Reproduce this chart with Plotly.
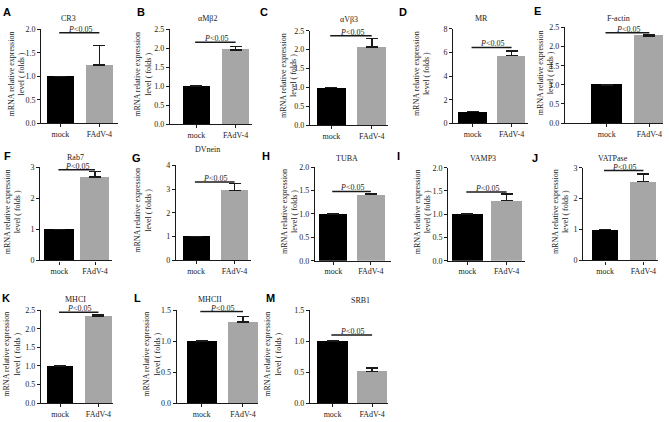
import plotly.graph_objects as go

# ---------------- data ----------------
genes = ["CR3", "αMβ2", "αVβ3", "MR", "F-actin", "Rab7", "DVnein",
         "TUBA", "VAMP3", "VATPase", "MHCI", "MHCII", "SRB1"]
letters = ["A", "B", "C", "D", "E", "F", "G", "H", "I", "J", "K", "L", "M"]
groups = ["mock", "FAdV-4"]
mock_vals = [1.0, 1.0, 1.0, 1.0, 1.0, 1.0, 1.0, 1.0, 1.0, 1.0, 1.0, 1.0, 1.0]
fadv_vals = [1.24, 1.96, 2.07, 5.72, 2.28, 2.68, 2.95, 1.41, 1.30, 2.56, 2.33, 1.31, 0.51]
fadv_err = [0.42, 0.09, 0.23, 0.38, 0.02, 0.18, 0.28, 0.03, 0.13, 0.24, 0.04, 0.09, 0.06]
sig_level = [1.93, 2.16, 2.37, 6.42, 2.36, 2.92, 3.30, 1.48, 1.48, 2.91, 2.45, 1.48, 1.10]
sig_text = "<i>P</i>&lt;0.05"
y_max = [2.0, 2.5, 2.5, 8, 2.5, 3, 4, 2.0, 2.0, 3, 2.5, 1.5, 1.5]
y_step = [0.5, 0.5, 0.5, 2, 0.5, 1, 1, 0.5, 0.5, 1, 0.5, 0.5, 0.5]
y_title = "mRNA relative expression<br>level ( folds )"

# ---------------- layout geometry (pixels) ----------------
W, H = 669, 422
# plot boxes: left, right, top, bottom
boxes = [
    (41.3, 117.7, 26, 122), (170, 251.7, 26, 122.7), (310, 388.3, 27.3, 124),
    (453.3, 528.3, 25.3, 122), (565, 663, 24, 121.7),
    (40.3, 111.7, 166.7, 262), (176, 250.7, 165, 261.7), (315, 390.7, 166.7, 262.3),
    (448.3, 525, 167.3, 262.3), (583.3, 658, 167.3, 262),
    (41, 113, 313, 407.7), (176.7, 258.3, 313, 407.7), (310, 388.3, 313, 407.7),
]
xranges = [(-0.49, 1.47), (-0.67, 1.41), (-0.53, 1.41), (-0.50, 1.43), (-0.98, 1.32),
           (-0.54, 1.47), (-0.52, 1.42), (-0.49, 1.53), (-0.49, 1.47), (-0.57, 1.38),
           (-0.50, 1.38), (-0.60, 1.37), (-0.57, 1.41)]
bar_w = [0.69, 0.70, 0.71, 0.73, 0.72, 0.83, 0.70, 0.75, 0.79, 0.69, 0.69, 0.72, 0.77]
title_pos = [(68, 15), (208, 15), (349, 16), (481, 15), (618, 15),
             (75, 156.5), (207, 149), (347, 157.7), (483, 158), (613, 158),
             (75, 301.5), (210, 302), (360, 303)]
letter_pos = [(7, 8), (141, 8), (264, 8), (403, 8), (537, 7),
              (7, 155), (136, 157), (266, 155), (399, 155), (535, 157),
              (6, 300), (137, 300), (270, 300)]
ytitle_x = [16, 143, 288, 421, 545, 12.5, 143, 290, 422, 560, 12, 152, 273]

FONT = "Liberation Serif, Times New Roman, serif"
GREY = "#a6a6a6"
INK = "#1a1a1a"

fig = go.Figure()
annotations = []
shapes = []

for i in range(13):
    L, R, T, B = boxes[i]
    sfx = "" if i == 0 else str(i + 1)
    xa, ya = "x" + sfx, "y" + sfx
    fig.add_trace(go.Bar(
        x=groups, y=[mock_vals[i], fadv_vals[i]],
        width=[bar_w[i], bar_w[i]],
        marker=dict(color=["#000000", GREY], line=dict(width=0)),
        error_y=dict(type="data", symmetric=False, array=[0, fadv_err[i]],
                     arrayminus=[0, 0], color=INK, thickness=1.5, width=6),
        xaxis=xa, yaxis=ya, showlegend=False, hoverinfo="skip",
    ))
    fmt = ".1f" if y_step[i] < 1 else "d"
    fig.layout["xaxis" + sfx] = dict(
        domain=[L / W, R / W], anchor=ya, type="category",
        range=list(xranges[i]), showline=True, linecolor=INK, linewidth=1.2,
        ticks="outside", ticklen=3, tickwidth=1, tickcolor=INK,
        tickfont=dict(family=FONT, size=8, color=INK),
        showgrid=False, zeroline=False, fixedrange=True,
    )
    fig.layout["yaxis" + sfx] = dict(
        domain=[1 - B / H, 1 - T / H], anchor=xa,
        range=[0, y_max[i]], dtick=y_step[i], tick0=0, tickformat=fmt,
        showline=True, linecolor=INK, linewidth=1.2,
        ticks="outside", ticklen=3, tickwidth=1, tickcolor=INK,
        tickfont=dict(family=FONT, size=8, color=INK),
        showgrid=False, zeroline=False, fixedrange=True,
    )
    # significance line and text
    shapes.append(dict(type="line", xref=xa, yref=ya, x0=-0.03, x1=1.0,
                       y0=sig_level[i], y1=sig_level[i],
                       line=dict(color=INK, width=1.5)))
    annotations.append(dict(xref=xa, yref=ya, x=0.5, y=sig_level[i],
                            text=sig_text, showarrow=False, yanchor="bottom",
                            yshift=-3, font=dict(family=FONT, size=8, color=INK)))
    # gene title
    tx, ty = title_pos[i]
    annotations.append(dict(xref="paper", yref="paper", x=tx / W, y=1 - ty / H,
                            text=genes[i], showarrow=False,
                            xanchor="center", yanchor="middle",
                            font=dict(family=FONT, size=8, color=INK)))
    # panel letter
    lx, ly = letter_pos[i]
    annotations.append(dict(xref="paper", yref="paper", x=lx / W, y=1 - ly / H,
                            text="<b>" + letters[i] + "</b>", showarrow=False,
                            xanchor="center", yanchor="middle",
                            font=dict(family="Liberation Sans, Arial, sans-serif",
                                      size=11, color="#000")))
    # y-axis title
    annotations.append(dict(xref="paper", yref="paper", x=ytitle_x[i] / W,
                            y=1 - ((T + B) / 2 - 2) / H,
                            text=y_title, showarrow=False, textangle=-90,
                            xanchor="center", yanchor="middle",
                            font=dict(family=FONT, size=8, color=INK)))

fig.update_layout(
    width=W, height=H, margin=dict(l=0, r=0, t=0, b=0),
    paper_bgcolor="white", plot_bgcolor="white",
    annotations=annotations, shapes=shapes, bargap=0,
)

fig.write_html("out.html", config={"displayModeBar": False},
               post_script="document.body.style.margin='0';")
